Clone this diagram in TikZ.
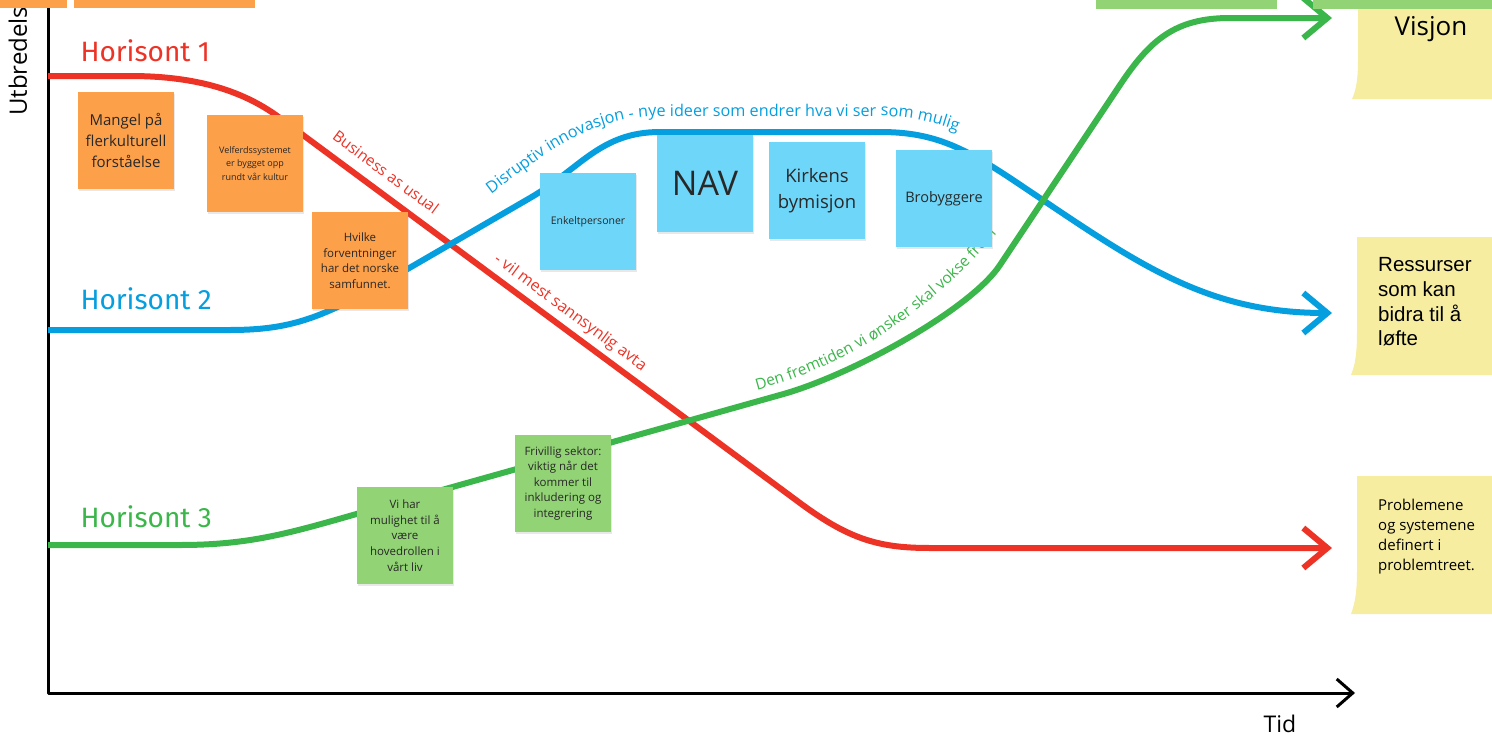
\documentclass[tikz,border=0pt]{standalone}
\usepackage{fontspec}
\setmainfont{Open Sans}
\newfontfamily\horfont{Fira Sans}
\newfontfamily\arialfont{Liberation Sans}
\usetikzlibrary{arrows.meta,shadows,decorations.text}
\definecolor{hred}{RGB}{236,51,38}
\definecolor{hblue}{RGB}{5,158,222}
\definecolor{hgreen}{RGB}{59,182,74}
\definecolor{orangenote}{RGB}{253,160,74}
\definecolor{bluenote}{RGB}{110,214,249}
\definecolor{greennote}{RGB}{146,211,117}
\definecolor{yellownote}{RGB}{246,237,161}
\definecolor{notetext}{RGB}{40,40,40}
\newcommand{\fsz}[2]{\fontsize{#1}{#2}\selectfont}

\begin{document}
\begin{tikzpicture}[x=1pt,y=-1pt,line join=round,
  note/.style={minimum width=96pt,minimum height=97pt,inner sep=2pt,align=center,text=notetext,
    drop shadow={shadow xshift=1pt,shadow yshift=-1.5pt,opacity=.18}},
  curve/.style={line width=6pt,-{Straight Barb[length=24pt,width=40pt]}},
  horlabel/.style={anchor=base west,font=\horfont\fsz{28}{28}}]
\useasboundingbox (0,0) rectangle (1492,736);
\clip (0,0) rectangle (1492,736);

% axes
\draw[line width=3pt,-{Straight Barb[length=16pt,width=28pt]}] (48,-10) -- (48,693) -- (1355,693);
\node[rotate=90,anchor=west,inner sep=0pt,font=\fsz{24}{24}] (ylab) at (18,116) {Utbredelse};
\node[anchor=base,font=\fsz{23}{23}] (xlab) at (1280,732) {Tid};

% horisont curves
\draw[curve,hred] (48,76) -- (130,76) .. controls (190,76) and (240,88) .. (280,118)
  -- (800,503) .. controls (850,540) and (880,548) .. (930,548) -- (1332,548);
\draw[curve,hblue] (48,330) -- (230,330) .. controls (290,330) and (320,318) .. (380,285)
  -- (530,198) .. controls (580,169) and (600,132) .. (660,132) -- (880,132)
  .. controls (930,132) and (960,145) .. (1010,178) .. controls (1130,258) and (1200,313) .. (1332,313);
\draw[curve,hgreen] (48,545) -- (180,545) .. controls (250,545) and (290,533) .. (360,513)
  -- (780,395) .. controls (850,376) and (970,310) .. (1000,265) -- (1120,85)
  .. controls (1150,40) and (1175,18) .. (1230,18) -- (1332,18);

\node[horlabel,text=hred] (h1) at (77,61) {Horisont 1};
\node[horlabel,text=hblue] (h2) at (77,309) {Horisont 2};
\node[horlabel,text=hgreen] (h3) at (77,527) {Horisont 3};

% curve texts
\node[rotate=-36.5,text=hred,font=\fsz{15.5}{15.5}] (bau) at (386,172) {Business as usual};
\node[rotate=-36.5,text=hred,font=\fsz{16}{16}] (avta) at (570,313) {- vil mest sannsynlig avta};
\path[decorate,decoration={text along path,
  text={|\fsz{16.2}{16.2}\color{hblue}|Disruptiv innovasjon - nye ideer som endrer hva vi ser som mulig}}]
  (491,194) .. controls (550,150) and (590,118) .. (660,116) -- (880,116) .. controls (920,117) and (950,126) .. (990,145);
\path[decorate,decoration={text along path,
  text={|\fsz{15.5}{15.5}\color{hgreen}|Den fremtiden vi ønsker skal vokse frem}}]
  (757,390) .. controls (850,365) and (950,305) .. (1030,190);

% orange notes
\node[note,fill=orangenote,font=\fsz{15}{21}] (mangel) at (126,140.5) {Mangel på\\flerkulturell\\forståelse};
\node[note,fill=orangenote,font=\fsz{9}{13.5}] (velferd) at (255,163.5) {Velferdssystemet\\er bygget opp\\rundt vår kultur};
\node[note,fill=orangenote,font=\fsz{11.5}{15.5}] (hvilke) at (360,260.5) {Hvilke\\forventninger\\har det norske\\samfunnet.};

% blue notes
\node[note,fill=bluenote,font=\fsz{10.5}{14}] (enkelt) at (588,221.5) {Enkeltpersoner};
\node[note,fill=bluenote,font=\fsz{34}{34}] (nav) at (705,183.5) {NAV};
\node[note,fill=bluenote,font=\fsz{18.5}{26}] (kirken) at (817,190.5) {Kirkens\\bymisjon};
\node[note,fill=bluenote,font=\fsz{14.5}{18}] (bro) at (944,198.5) {Brobyggere};

% green notes
\node[note,fill=greennote,font=\fsz{11.5}{15.8}] (vihar) at (405,535.5) {Vi har\\mulighet til å\\være\\hovedrollen i\\vårt liv};
\node[note,fill=greennote,font=\fsz{11.5}{15.5}] (frivillig) at (563,483.5) {Frivillig sektor:\\viktig når det\\kommer til\\inkludering og\\integrering};

% yellow notes on the right
\fill[yellownote] (1358,5) -- (1358,60) .. controls (1358,80) and (1356,90) .. (1352,99) -- (1492,99) -- (1492,5) -- cycle;
\node[anchor=base,font=\fsz{26}{26}] (visjon) at (1431,35) {Visjon};
\fill[yellownote] (1357,237) -- (1357,330) .. controls (1357,355) and (1355,365) .. (1351,375) -- (1492,375) -- (1492,237) -- cycle;
\node[anchor=west,align=left,inner sep=0pt,font=\arialfont\fsz{20.5}{24.7}] (ressurser) at (1378,302) {Ressurser\\som kan\\bidra til å\\løfte};
\fill[yellownote] (1357,476) -- (1357,570) .. controls (1357,592) and (1355,603) .. (1351,614) -- (1492,614) -- (1492,476) -- cycle;
\node[anchor=west,align=left,inner sep=0pt,font=\fsz{15}{20}] (problem) at (1378,537) {Problemene\\og systemene\\definert i\\problemtreet.};

% notes cut off at the top
\fill[orangenote] (0,-5) rectangle (67,8);
\fill[orangenote] (74,-5) rectangle (255,8);
\fill[greennote] (1096,-5) rectangle (1277,9);
\fill[greennote] (1313,-5) rectangle (1492,9);
\end{tikzpicture}
\end{document}
